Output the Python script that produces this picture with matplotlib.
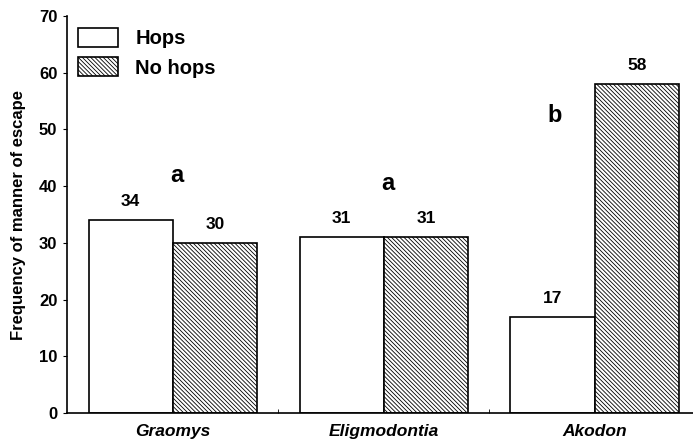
import numpy as np
import matplotlib
matplotlib.use('Agg')
import matplotlib.pyplot as plt

plt.rcParams['font.family'] = ['Liberation Sans', 'DejaVu Sans']
plt.rcParams['hatch.linewidth'] = 0.6
plt.rcParams['hatch.color'] = '#444444'

# Data
species = ['Graomys', 'Eligmodontia', 'Akodon']
hops = [34, 31, 17]
no_hops = [30, 31, 58]
letters = ['a', 'a', 'b']
letter_x = [0.02, 1.02, 1.81]
letter_y = [41.9, 40.5, 52.5]

x = np.arange(len(species))
w = 0.40

fig = plt.figure(figsize=(6.93, 4.41), dpi=100)
ax = fig.add_axes([67 / 693, (441 - 413) / 441, 1 - 67 / 693, 397 / 441])

b1 = ax.bar(x - w / 2, hops, w, color='white', edgecolor='black', linewidth=1.2, label='Hops')
b2 = ax.bar(x + w / 2, no_hops, w, color='white', edgecolor='black', linewidth=1.2,
            hatch='\\' * 8, label='No hops')

# value labels above bars
for bars, vals in [(b1, hops), (b2, no_hops)]:
    for rect, v in zip(bars, vals):
        ax.text(rect.get_x() + rect.get_width() / 2, v + 1.9, str(v),
                ha='center', va='bottom', fontsize=12.5, fontweight='bold')

# significance letters
for lx, ly, lt in zip(letter_x, letter_y, letters):
    ax.text(lx, ly, lt, ha='center', va='center', fontsize=17, fontweight='bold')

ax.set_xlim(-0.502, 2.465)
ax.set_ylim(0, 70)
ax.set_yticks(range(0, 71, 10))
ax.set_xticks(x)
ax.set_xticklabels(species, fontsize=12.5, fontweight='bold', fontstyle='italic')
ax.set_xticks([0.5, 1.5], minor=True)
ax.tick_params(axis='x', which='major', length=0, pad=8)
ax.tick_params(axis='x', which='minor', direction='in', length=3)
ax.tick_params(axis='y', direction='out', length=3, labelsize=12, pad=4)
for lbl in ax.get_yticklabels():
    lbl.set_fontweight('bold')

ax.set_ylabel('Frequency of manner of escape', fontsize=12, fontweight='bold', labelpad=9)

ax.spines['top'].set_visible(False)
ax.spines['right'].set_visible(False)
ax.spines['left'].set_linewidth(1.2)
ax.spines['bottom'].set_linewidth(1.2)

leg = ax.legend(loc='upper left', bbox_to_anchor=(-0.008, 1.01), frameon=False,
                prop={'weight': 'bold', 'size': 14.5}, handlelength=2.0, handleheight=1.05,
                handletextpad=0.85, labelspacing=0.45, borderpad=0.3)

fig.savefig('out.png', dpi=100)
